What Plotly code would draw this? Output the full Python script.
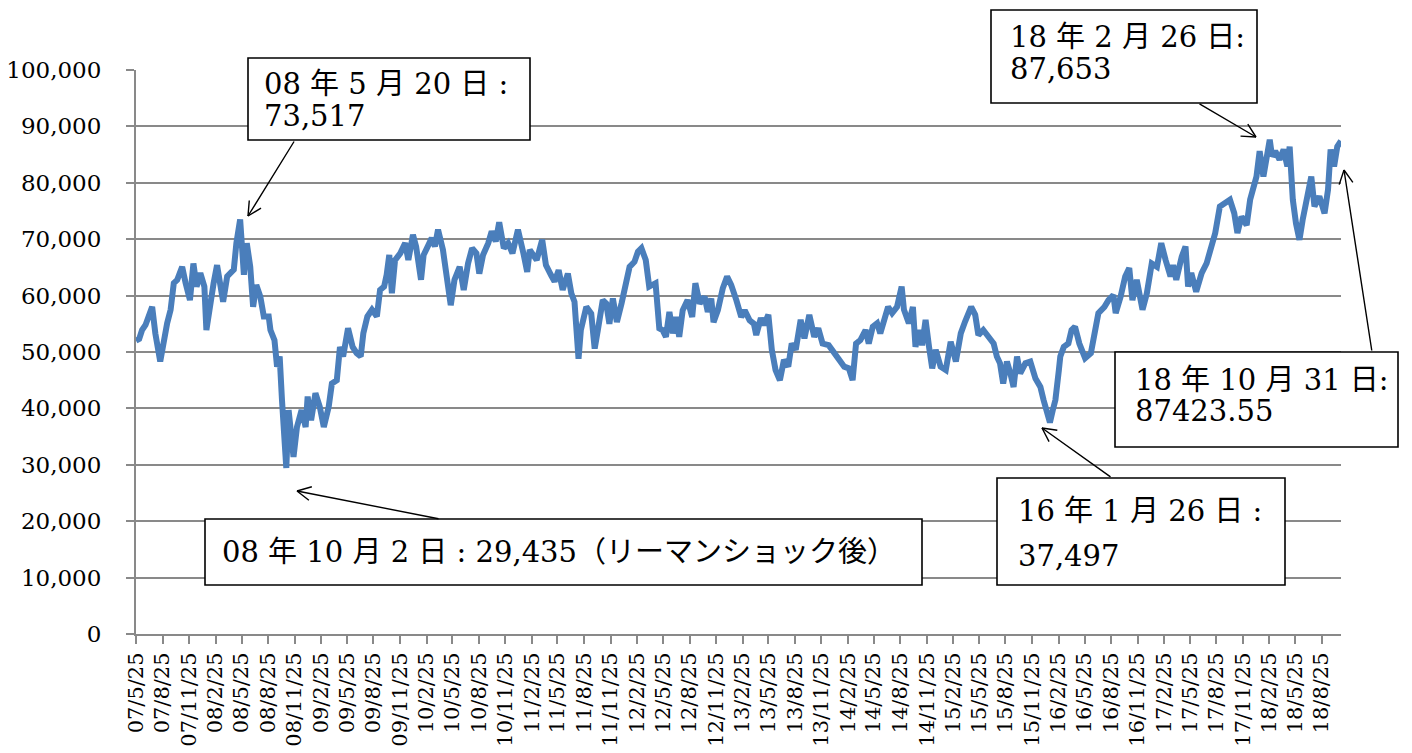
import math
import plotly.graph_objects as go

# ---------------- data ----------------
dates = [
    "2007-05-25", "2007-06-05", "2007-06-15", "2007-06-27", "2007-07-20", "2007-07-31", "2007-08-17", "2007-08-29",
    "2007-09-10", "2007-09-22", "2007-10-03", "2007-10-15", "2007-11-01", "2007-11-13", "2007-11-28", "2007-12-10",
    "2007-12-21",
    "2008-01-03", "2008-01-17", "2008-01-24", "2008-02-07", "2008-02-18", "2008-03-01", "2008-03-12", "2008-03-22",
    "2008-04-05", "2008-04-28", "2008-05-07", "2008-05-20", "2008-06-02", "2008-06-12", "2008-06-24", "2008-07-04",
    "2008-07-15", "2008-07-29", "2008-08-10", "2008-08-27", "2008-09-02", "2008-09-16", "2008-09-25", "2008-10-04",
    "2008-10-12", "2008-10-20", "2008-10-27", "2008-11-04", "2008-11-13", "2008-11-21", "2008-12-03", "2008-12-19",
    "2009-01-02", "2009-01-09", "2009-01-21", "2009-02-05", "2009-02-20", "2009-03-06", "2009-03-23", "2009-04-03",
    "2009-04-20", "2009-05-01", "2009-05-12", "2009-05-29", "2009-06-14", "2009-06-28", "2009-07-12", "2009-07-21",
    "2009-08-04", "2009-08-20", "2009-09-06", "2009-09-17", "2009-10-01", "2009-10-10", "2009-10-19", "2009-10-28",
    "2009-11-08", "2009-11-26", "2009-12-13", "2009-12-24",
    "2010-01-09", "2010-01-20", "2010-02-06", "2010-02-15", "2010-03-04", "2010-03-15", "2010-03-26", "2010-04-06",
    "2010-04-23", "2010-05-05", "2010-05-20", "2010-06-02", "2010-06-20", "2010-07-04", "2010-07-19", "2010-08-02",
    "2010-08-17", "2010-08-27", "2010-09-09", "2010-09-27", "2010-10-09", "2010-10-23", "2010-11-04", "2010-11-20",
    "2010-12-05", "2010-12-20",
    "2011-01-08", "2011-01-27", "2011-02-09", "2011-02-18", "2011-03-14", "2011-04-02", "2011-04-15", "2011-05-03",
    "2011-05-15", "2011-05-29", "2011-06-12", "2011-06-30", "2011-07-12", "2011-07-23", "2011-07-30", "2011-08-06",
    "2011-08-14", "2011-09-02", "2011-09-19", "2011-10-01", "2011-10-12", "2011-10-29", "2011-11-10", "2011-11-21",
    "2011-12-03", "2011-12-17",
    "2012-01-02", "2012-01-16", "2012-01-30", "2012-02-16", "2012-02-28", "2012-03-11", "2012-03-26", "2012-04-07",
    "2012-04-29", "2012-05-12", "2012-05-23", "2012-06-04", "2012-06-16", "2012-06-28", "2012-07-09", "2012-07-20",
    "2012-08-01", "2012-08-18", "2012-09-03", "2012-09-14", "2012-09-29", "2012-10-16", "2012-10-27", "2012-11-08",
    "2012-11-16", "2012-12-01", "2012-12-18",
    "2013-01-02", "2013-01-16", "2013-02-03", "2013-02-20", "2013-03-04", "2013-03-21", "2013-04-05", "2013-04-13",
    "2013-04-29", "2013-05-10", "2013-05-25", "2013-06-06", "2013-06-19", "2013-07-04", "2013-07-18", "2013-08-02",
    "2013-08-14", "2013-08-28", "2013-09-14", "2013-09-27", "2013-10-14", "2013-10-31", "2013-11-14", "2013-11-29",
    "2013-12-20",
    "2014-01-08", "2014-01-26", "2014-02-12", "2014-02-28", "2014-03-13", "2014-03-25", "2014-04-09", "2014-04-27",
    "2014-05-08", "2014-05-22", "2014-06-06", "2014-06-17", "2014-06-29", "2014-07-14", "2014-07-28", "2014-08-14",
    "2014-08-30", "2014-09-07", "2014-09-24", "2014-10-08", "2014-10-17", "2014-10-29", "2014-11-09", "2014-11-21",
    "2014-12-03", "2014-12-14", "2014-12-26",
    "2015-01-12", "2015-01-30", "2015-02-16", "2015-03-06", "2015-03-23", "2015-04-07", "2015-04-28", "2015-05-12",
    "2015-05-23", "2015-06-09", "2015-06-27", "2015-07-15", "2015-07-26", "2015-08-06", "2015-08-17", "2015-08-30",
    "2015-09-11", "2015-09-22", "2015-10-04", "2015-10-15", "2015-11-02", "2015-11-19", "2015-12-07", "2015-12-24",
    "2016-01-04", "2016-01-26", "2016-02-05", "2016-02-14", "2016-02-26", "2016-03-02", "2016-03-14", "2016-03-30",
    "2016-04-10", "2016-04-22", "2016-05-07", "2016-05-27", "2016-06-16", "2016-07-01", "2016-07-12", "2016-08-02",
    "2016-08-16", "2016-09-02", "2016-09-10", "2016-09-27", "2016-10-13", "2016-10-27", "2016-11-07", "2016-11-22",
    "2016-12-12", "2016-12-27",
    "2017-01-13", "2017-01-31", "2017-02-15", "2017-03-02", "2017-03-19", "2017-03-28", "2017-04-08", "2017-04-27",
    "2017-05-10", "2017-05-19", "2017-05-30", "2017-06-16", "2017-07-05", "2017-07-22", "2017-08-07", "2017-08-21",
    "2017-09-06", "2017-09-23", "2017-10-11", "2017-10-26", "2017-11-06", "2017-11-20", "2017-12-08", "2017-12-20",
    "2017-12-29",
    "2018-01-11", "2018-01-22", "2018-02-04", "2018-02-26", "2018-03-06", "2018-03-17", "2018-04-01", "2018-04-15",
    "2018-04-28", "2018-05-06", "2018-05-17", "2018-05-28", "2018-06-09", "2018-06-20", "2018-07-06", "2018-07-20",
    "2018-07-31", "2018-08-17", "2018-09-04", "2018-09-16", "2018-09-25", "2018-10-07", "2018-10-18", "2018-10-31",
]

values = [
    52000, 52300, 53900, 54800, 58000, 53300, 48300, 52100,
    55100, 57500, 62200, 62800, 65100, 62200, 59200, 65700,
    61600,
    64000, 61600, 53900, 59200, 62200, 65400, 61600, 58900,
    63400, 64600, 69300, 73517, 63700, 69300, 65100, 58000,
    61900, 59800, 56300, 56300, 53900, 52100, 47400, 49200,
    41500, 35600, 29435, 39700, 35600, 31400, 36700, 39700,
    36700, 42100, 37900, 42700, 40300, 36700, 40300, 44400,
    45000, 50900, 49200, 54200, 50900, 49800, 49200, 53300,
    56300, 57500, 56300, 61000, 61600, 63700, 67200, 60400,
    66300, 67500, 69300, 66300,
    70800, 68700, 62800, 67200, 69000, 70200, 68700, 71700,
    68100, 62800, 58300, 62800, 65100, 61000, 65700, 68400,
    67500, 63900, 67200, 69300, 71400, 69600, 73000, 68400,
    69300, 67500,
    71700, 67500, 64200, 68100, 66300, 69900, 65400, 63600,
    62500, 64500, 61000, 63900, 60400, 58900, 54500, 48800,
    53900, 58000, 56800, 50600, 53900, 59200, 58600, 55000,
    59500, 55300,
    58600, 61900, 65100, 66000, 67800, 68400, 66300, 61600,
    62200, 54200, 53900, 52700, 57100, 53300, 56200, 52700,
    57400, 59200, 56200, 62200, 58600, 59800, 57100, 59500,
    55300, 57400, 61300,
    63400, 61900, 59200, 56200, 57400, 55600, 55000, 53000,
    56000, 54800, 56600, 50400, 46800, 45000, 48600, 47400,
    51500, 50400, 55700, 52400, 56600, 52700, 54200, 51500,
    51200,
    49800, 48300, 47400, 47100, 45000, 51500, 52100, 53900,
    51500, 54500, 55100, 53300, 55700, 58000, 56900, 58000,
    61600, 57500, 55100, 58000, 50900, 53900, 51200, 55700,
    50900, 47100, 50400,
    47400, 46800, 51800, 48300, 53300, 55400, 58000, 56600,
    53000, 53900, 52700, 51500, 49200, 48000, 44400, 48300,
    46200, 43800, 49200, 46200, 48000, 48300, 45300, 43800,
    41500, 37497, 39700, 41500, 46800, 49200, 50900, 51500,
    53900, 54500, 51500, 48900, 49800, 53300, 56900, 58000,
    59200, 60100, 56900, 59800, 63400, 64900, 59200, 62800,
    57500, 60400,
    65700, 65100, 69300, 66300, 63400, 65400, 62800, 66900,
    68700, 61600, 64000, 60700, 64000, 65700, 68700, 71100,
    75800, 76400, 77000, 74600, 71100, 74000, 72500, 77000,
    79100,
    81100, 85600, 81100, 87653, 84700, 85600, 84100, 85900,
    82900, 86400, 77000, 72800, 69900, 73400, 77000, 81100,
    75800, 77600, 74600, 78800, 85900, 82900, 86400, 87423.55,
]

tick_labels = [
    "07/5/25", "07/8/25", "07/11/25",
    "08/2/25", "08/5/25", "08/8/25", "08/11/25",
    "09/2/25", "09/5/25", "09/8/25", "09/11/25",
    "10/2/25", "10/5/25", "10/8/25", "10/11/25",
    "11/2/25", "11/5/25", "11/8/25", "11/11/25",
    "12/2/25", "12/5/25", "12/8/25", "12/11/25",
    "13/2/25", "13/5/25", "13/8/25", "13/11/25",
    "14/2/25", "14/5/25", "14/8/25", "14/11/25",
    "15/2/25", "15/5/25", "15/8/25", "15/11/25",
    "16/2/25", "16/5/25", "16/8/25", "16/11/25",
    "17/2/25", "17/5/25", "17/8/25", "17/11/25",
    "18/2/25", "18/5/25", "18/8/25",
]

y_tick_values = [0, 10000, 20000, 30000, 40000, 50000, 60000, 70000, 80000, 90000, 100000]

note_lines = [
    ["08 年 5 月 20 日 :", "73,517"],
    ["08 年 10 月 2 日 : 29,435（リーマンショック後）"],
    ["18 年 2 月 26 日:", "87,653"],
    ["18 年 10 月 31 日:", "87423.55"],
    ["16 年 1 月 26 日 :", "37,497"],
]

# ---------------- helpers ----------------
def label_to_date(s):
    yy, m, d = s.split("/")
    return f"20{yy}-{int(m):02d}-{int(d):02d}"

tick_dates = [label_to_date(s) for s in tick_labels]
y_tick_text = [f"{v:,}" for v in y_tick_values]

FONT = "DejaVu Serif, Noto Sans CJK JP, serif"
GRID = "#898989"
LINE = "#4A7EBB"

# plot area in pixels
PX0, PX1, PY0, PY1 = 136, 1341, 70, 634


def px(x):
    return (x - PX0) / (PX1 - PX0)


def py(y):
    return (PY1 - y) / (PY1 - PY0)


fig = go.Figure()
fig.add_trace(go.Scatter(
    x=dates, y=values, mode="lines",
    line=dict(color=LINE, width=6),
    hoverinfo="skip",
))

# annotation boxes (pixel rects) and text line positions
boxes = [
    (248, 58, 530, 140),
    (205, 519, 922, 585),
    (991, 10, 1257, 103),
    (1115, 352, 1398, 447),
    (997, 478, 1285, 585),
]
text_pos = [
    (262, [84, 116]),
    (220, [552]),
    (1008, [37, 69]),
    (1133, [380, 411]),
    (1016, [511, 556]),
]
arrows = [  # (tip_x, tip_y, tail_x, tail_y)
    (248, 216, 295, 140),
    (297, 491, 440, 519),
    (1256, 137, 1198, 103),
    (1344, 170, 1372, 352),
    (1042, 428, 1112, 478),
]

shapes = []
for (x0, y0, x1, y1) in boxes:
    shapes.append(dict(
        type="rect", xref="paper", yref="paper",
        x0=px(x0), x1=px(x1), y0=py(y1), y1=py(y0),
        line=dict(color="black", width=1.6), fillcolor="white", layer="above",
    ))

annotations = []
for lines, (lx, ys) in zip(note_lines, text_pos):
    for t, yy in zip(lines, ys):
        annotations.append(dict(
            text=t, xref="paper", yref="paper", x=px(lx), y=py(yy),
            xanchor="left", yanchor="middle", showarrow=False,
            font=dict(family=FONT, size=29, color="black"),
        ))


def seg(tx, ty, sx, sy):
    """A plain line from (sx, sy) to (tx, ty) in pixels, as a headless arrow."""
    return dict(
        text="", xref="paper", yref="paper", x=px(tx), y=py(ty),
        ax=sx - tx, ay=sy - ty, axref="pixel", ayref="pixel",
        showarrow=True, arrowhead=0, arrowwidth=1.4, arrowcolor="black",
        standoff=0, startstandoff=0,
    )


BARB_LEN, BARB_ANG = 17, math.radians(27)
for (tx, ty, sx, sy) in arrows:
    annotations.append(seg(tx, ty, sx, sy))
    ang = math.atan2(sy - ty, sx - tx)
    for s in (-1, 1):
        bx = tx + BARB_LEN * math.cos(ang + s * BARB_ANG)
        by = ty + BARB_LEN * math.sin(ang + s * BARB_ANG)
        annotations.append(seg(tx, ty, bx, by))

fig.update_layout(
    width=1412, height=753,
    margin=dict(l=PX0, r=1412 - PX1, t=PY0, b=753 - PY1),
    paper_bgcolor="white", plot_bgcolor="white",
    showlegend=False,
    font=dict(family=FONT, color="black"),
    shapes=shapes, annotations=annotations,
    xaxis=dict(
        type="date", range=[dates[0], dates[-1]],
        tickmode="array", tickvals=tick_dates, ticktext=tick_labels,
        tickangle=-90, ticks="outside", ticklen=8, tickwidth=1.5, tickcolor=GRID,
        showline=True, linecolor=GRID, linewidth=2,
        showgrid=False, zeroline=False, automargin=False,
        tickfont=dict(family=FONT, size=21, color="black"),
    ),
    yaxis=dict(
        range=[0, 100000], tickmode="array", tickvals=y_tick_values, ticktext=y_tick_text,
        ticks="outside", ticklen=8, tickwidth=1.5, tickcolor=GRID,
        showline=True, linecolor=GRID, linewidth=2,
        showgrid=True, gridcolor=GRID, gridwidth=1.5, zeroline=False,
        automargin=False, ticklabelstandoff=20,
        tickfont=dict(family=FONT, size=23, color="black"),
    ),
)

fig.write_html(
    "out.html",
    config={"displayModeBar": False},
    post_script="document.body.style.margin='0';",
)
